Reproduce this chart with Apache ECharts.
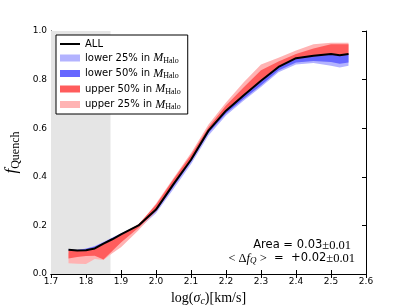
<!DOCTYPE html>
<html><head><meta charset="utf-8">
<script src="https://cdn.jsdelivr.net/npm/echarts@6/dist/echarts.min.js"></script>
<style>html,body{margin:0;padding:0;background:#fff}#c{width:407px;height:305px}</style>
</head><body><div id="c"></div>
<script>
// ---- data ----
const xs = [1.75,1.775,1.8,1.825,1.85,1.875,1.9,1.95,2.0,2.05,2.1,2.15,2.2,2.25,2.3,2.35,2.4,2.45,2.5,2.525,2.55];
const allVals = [0.100,0.097,0.098,0.105,0.125,0.143,0.163,0.200,0.265,0.370,0.470,0.590,0.672,0.735,0.795,0.852,0.888,0.898,0.905,0.900,0.905];
const low25Lo = [0.097,0.095,0.097,0.105,0.122,0.140,0.157,0.185,0.250,0.350,0.452,0.570,0.652,0.713,0.770,0.830,0.862,0.868,0.857,0.850,0.857];
const low25Hi = [0.102,0.100,0.105,0.115,0.133,0.150,0.168,0.203,0.268,0.372,0.472,0.592,0.674,0.737,0.797,0.854,0.890,0.900,0.907,0.902,0.907];
const low50Lo = [0.098,0.096,0.099,0.107,0.125,0.142,0.160,0.193,0.258,0.360,0.462,0.580,0.660,0.720,0.777,0.837,0.870,0.877,0.872,0.865,0.870];
const low50Hi = [0.101,0.099,0.104,0.113,0.130,0.148,0.165,0.200,0.266,0.371,0.471,0.591,0.673,0.736,0.796,0.853,0.889,0.899,0.906,0.901,0.906];
const up50Lo  = [0.064,0.070,0.074,0.075,0.060,0.095,0.130,0.190,0.260,0.368,0.468,0.588,0.670,0.733,0.793,0.850,0.886,0.896,0.903,0.898,0.903];
const up50Hi  = [0.097,0.095,0.097,0.105,0.123,0.140,0.160,0.205,0.285,0.390,0.490,0.604,0.693,0.768,0.838,0.875,0.905,0.928,0.945,0.945,0.945];
const up25Lo  = [0.044,0.042,0.041,0.062,0.058,0.085,0.110,0.180,0.258,0.366,0.466,0.586,0.668,0.731,0.790,0.848,0.884,0.894,0.900,0.895,0.900];
const up25Hi  = [0.085,0.082,0.085,0.090,0.110,0.130,0.150,0.200,0.290,0.395,0.498,0.615,0.706,0.788,0.862,0.890,0.920,0.945,0.952,0.952,0.952];
const shadeRange = [1.7, 1.87];
const xTicks = [1.7,1.8,1.9,2.0,2.1,2.2,2.3,2.4,2.5,2.6];
const yTicks = [0.0,0.2,0.4,0.6,0.8,1.0];
const names = ['ALL','lower 25% in M','lower 50% in M','upper 50% in M','upper 25% in M'];

const chart = echarts.init(document.getElementById('c'));
function band(name, lo, hi, color, z) {
  return {
    name, type: 'custom', z, clip: true,
    itemStyle: { color },
    data: [[xs[0], lo[0]]],
    renderItem: function (params, api) {
      const pts = [];
      for (let i = 0; i < xs.length; i++) pts.push(api.coord([xs[i], hi[i]]));
      for (let i = xs.length - 1; i >= 0; i--) pts.push(api.coord([xs[i], lo[i]]));
      return { type: 'polygon', shape: { points: pts }, style: { fill: color } };
    }
  };
}
const tickFont = { fontFamily: 'DejaVu Sans', fontSize: 9, color: '#000' };
const serif = 'Liberation Serif';
chart.setOption({
  animation: false,
  grid: { left: 51, top: 31, right: 41, bottom: 31, outerBoundsMode: 'none', containLabel: false },
  xAxis: [
    { type: 'value', min: xTicks[0], max: xTicks[xTicks.length - 1], interval: 0.1,
      axisLine: { show: true, lineStyle: { color: '#000', width: 1 } },
      axisTick: { inside: true, length: 4, lineStyle: { color: '#000' } },
      splitLine: { show: false },
      axisLabel: Object.assign({ margin: 3, formatter: v => v.toFixed(1) }, tickFont),
      name: '{r|log(}{i|σ}{sub|c}{r|)[km/s]}', nameLocation: 'middle', nameGap: 14,
      nameTextStyle: { rich: {
        r: { fontFamily: serif, fontSize: 14, color: '#000' },
        i: { fontFamily: serif, fontStyle: 'italic', fontSize: 14, color: '#000' },
        sub: { fontFamily: serif, fontStyle: 'italic', fontSize: 10, color: '#000', padding: [6, 0, 0, 0] }
      } } },
    { type: 'value', position: 'top', min: xTicks[0], max: xTicks[xTicks.length - 1], interval: 0.1,
      axisLine: { show: true, lineStyle: { color: '#000', width: 1 } },
      axisTick: { inside: true, length: 4, lineStyle: { color: '#000' } },
      axisLabel: { show: false }, splitLine: { show: false } }
  ],
  yAxis: [
    { type: 'value', min: yTicks[0], max: yTicks[yTicks.length - 1], interval: 0.2,
      axisLine: { show: true, lineStyle: { color: '#000', width: 1 } },
      axisTick: { inside: true, length: 4, lineStyle: { color: '#000' } },
      splitLine: { show: false },
      axisLabel: Object.assign({ margin: 4, formatter: v => v.toFixed(1) }, tickFont),
      name: '{f|f}{sub|Quench}', nameLocation: 'middle', nameGap: 22, nameRotate: 90,
      nameTextStyle: { rich: {
        f: { fontFamily: serif, fontStyle: 'italic', fontSize: 17, color: '#000' },
        sub: { fontFamily: serif, fontSize: 12, color: '#000', padding: [8, 0, 0, 0] }
      } } },
    { type: 'value', position: 'right', min: yTicks[0], max: yTicks[yTicks.length - 1], interval: 0.2,
      axisLine: { show: true, lineStyle: { color: '#000', width: 1 } },
      axisTick: { inside: true, length: 4, lineStyle: { color: '#000' } },
      axisLabel: { show: false }, splitLine: { show: false } }
  ],
  legend: {
    left: 56, top: 35, orient: 'vertical',
    backgroundColor: '#fff', borderColor: '#000', borderWidth: 1, borderRadius: 0,
    padding: [4, 7, 3, 4], itemGap: 3, itemWidth: 20, itemHeight: 7,
    data: [
      { name: names[0], icon: 'path://M0,0H20V2H0Z' },
      { name: names[1], icon: 'rect' },
      { name: names[2], icon: 'rect' },
      { name: names[3], icon: 'rect' },
      { name: names[4], icon: 'rect' }
    ],
    formatter: function (n) {
      if (n === 'ALL') return '{t|ALL}';
      return '{t|' + n.slice(0, -1) + '}{m|M}{s|Halo}';
    },
    textStyle: { rich: {
      t: { fontFamily: 'DejaVu Sans', fontSize: 10, color: '#000', height: 11 },
      m: { fontFamily: serif, fontStyle: 'italic', fontSize: 12, color: '#000' },
      s: { fontFamily: serif, fontSize: 8, color: '#000', padding: [5, 0, 0, 0] }
    } }
  },
  series: [
    { name: 'shade', type: 'line', data: [], z: 1, silent: true,
      markArea: { silent: true, itemStyle: { color: '#e5e5e5' },
        data: [[{ xAxis: shadeRange[0] }, { xAxis: shadeRange[1] }]] } },
    band(names[1], low25Lo, low25Hi, '#b3b3ff', 2),
    band(names[4], up25Lo, up25Hi, '#ffb3b3', 3),
    band(names[2], low50Lo, low50Hi, '#6666ff', 4),
    band(names[3], up50Lo, up50Hi, '#ff5c5c', 5),
    { name: names[0], type: 'line', z: 10, symbol: 'none', smooth: false,
      lineStyle: { color: '#000', width: 2 }, itemStyle: { color: '#000' },
      data: xs.map((x, i) => [x, allVals[i]]) }
  ],
  graphic: [
    { type: 'text', right: 56, top: 239, style: {
      text: '{a|Area = 0.03}{b|±0.01}',
      rich: { a: { fontFamily: 'DejaVu Sans', fontSize: 11.5, fill: '#000' },
              b: { fontFamily: serif, fontSize: 12.5, fill: '#000' } } } },
    { type: 'text', right: 52, top: 252, style: {
      text: '{b|< Δ}{i|f}{s|Q}{b| >}{a|  =  +0.02}{b|±0.01}',
      rich: { a: { fontFamily: 'DejaVu Sans', fontSize: 11.5, fill: '#000' },
              b: { fontFamily: serif, fontSize: 12.5, fill: '#000' },
              i: { fontFamily: serif, fontStyle: 'italic', fontSize: 12.5, fill: '#000' },
              s: { fontFamily: serif, fontStyle: 'italic', fontSize: 9, fill: '#000', padding: [5, 0, 0, 0] } } } }
  ]
});
</script></body></html>
